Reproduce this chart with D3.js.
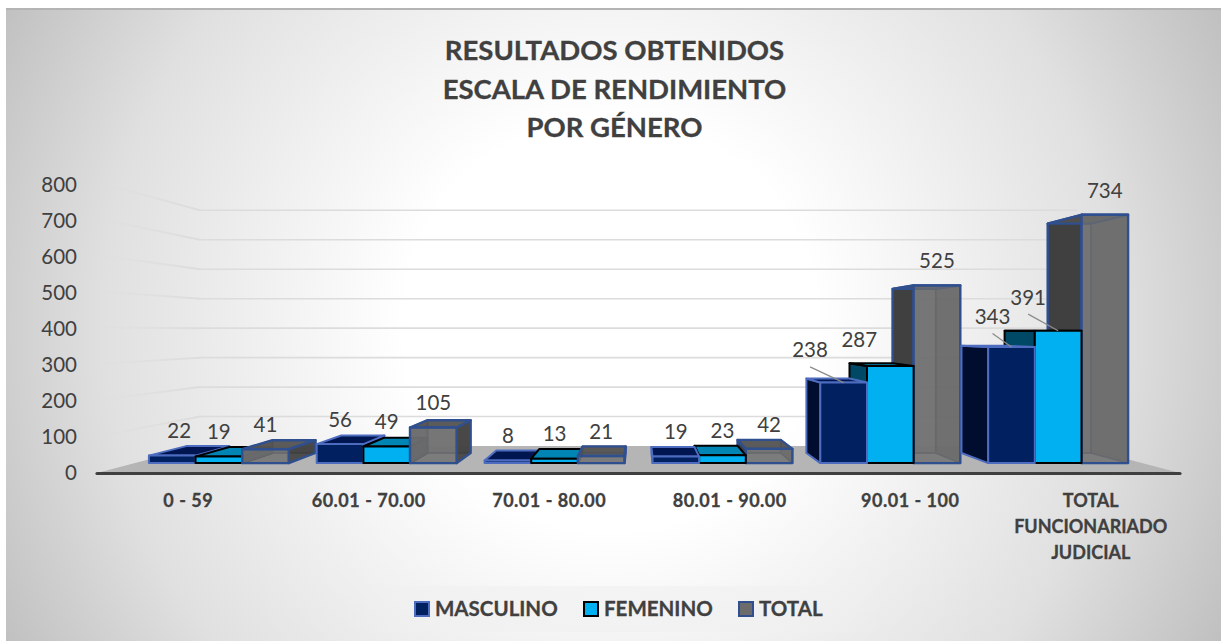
<!DOCTYPE html>
<html><head><meta charset="utf-8">
<script src="https://cdn.jsdelivr.net/npm/d3@7"></script>
<style>html,body{margin:0;padding:0;background:#fff}svg{display:block}text{font-family:Lato,"Open Sans",sans-serif;fill:#404040}.b{stroke:#404040;stroke-width:0.3px}</style>
</head><body><div id="c"></div>
<script>
const categories=["0 - 59","60.01 - 70.00","70.01 - 80.00","80.01 - 90.00","90.01 - 100","TOTAL FUNCIONARIADO JUDICIAL"];
const categoryLines=[["0 - 59"],["60.01 - 70.00"],["70.01 - 80.00"],["80.01 - 90.00"],["90.01 - 100"],["TOTAL","FUNCIONARIADO","JUDICIAL"]];
const seriesNames=["MASCULINO","FEMENINO","TOTAL"];
const masculino=[22,56,8,19,238,343];
const femenino=[19,49,13,23,287,391];
const total=[41,105,21,42,525,734];
const titleLines=["RESULTADOS OBTENIDOS","ESCALA DE RENDIMIENTO","POR GÉNERO"];
const valueTicks=[0,100,200,300,400,500,600,700,800];
// label nudges [series, category, dx, dy, leader]
const labelNudges=[[0,0,7,0,false],[0,4,-33.6,-8,true],[1,4,-31,-2,false],[0,5,-19,-6,true],[1,5,-30,-9,true]];

const W=1221,H=641;
const svg=d3.select("#c").append("svg").attr("width",W).attr("height",H);
const defs=svg.append("defs");
const bg=defs.append("radialGradient").attr("id","bg").attr("gradientUnits","userSpaceOnUse").attr("cx",610).attr("cy",325).attr("r",686);
[[0.3,"#ffffff"],[0.74,"#e0e0e0"],[1,"#c0c0c0"]].forEach(s=>bg.append("stop").attr("offset",s[0]).attr("stop-color",s[1]));
const wall=defs.append("linearGradient").attr("id","wall").attr("gradientUnits","userSpaceOnUse").attr("x1",97).attr("x2",200).attr("y1",0).attr("y2",0);
wall.append("stop").attr("offset",0).attr("stop-color","#dcdcdc").attr("stop-opacity",0.1);
wall.append("stop").attr("offset",1).attr("stop-color","#dcdcdc").attr("stop-opacity",1);
const lg=defs.append("linearGradient").attr("id","lgbox");
[[0,0],[0.2,0.6],[0.8,0.6],[1,0]].forEach(s=>lg.append("stop").attr("offset",s[0]).attr("stop-color","#f0f0f0").attr("stop-opacity",s[1]));

svg.append("rect").attr("x",6).attr("y",8).attr("width",W-6).attr("height",H-8).attr("fill","url(#bg)");
svg.append("line").attr("x1",6).attr("x2",W).attr("y1",9).attr("y2",9).attr("stroke","#b4b4b4").attr("stroke-width",2);
svg.append("rect").attr("x",340).attr("y",586).attr("width",540).attr("height",46).attr("fill","url(#lgbox)");

// front-plane scales + one-point perspective
const band=d3.scaleBand().domain(categories).range([97,1180]).paddingInner(0).paddingOuter(0);
const series=[masculino,femenino,total];
const xInner=d3.scaleBand().domain([0,1,2]).range([15,band.bandwidth()-15]);
const y=d3.scaleLinear().domain([0,800]).range([473,182]);
const yLabel=d3.scaleLinear().domain([0,800]).range([473,185]);
const VX=638.5,VY=331;
const S_FRONT=0.93,S_BACK=0.859,S_WALL=0.81;
const P=(x,yy,s)=>[VX+(x-VX)*s,VY+(yy-VY)*s];
const poly=pts=>pts.map(p=>p.map(v=>v.toFixed(1)).join(",")).join(" ");

// floor
const x0=band.range()[0],x1=band.range()[1];
svg.append("polygon").attr("points",poly([P(x0,y(0),1),P(x0,y(0),S_WALL),P(x1,y(0),S_WALL),P(x1,y(0),1)])).attr("fill","#b5b5b5");

// gridlines
const grid=svg.append("g");
valueTicks.forEach(t=>{
  const a=P(x0,y(t),1),b=P(x0,y(t),S_WALL),c=P(x1,y(t),S_WALL);
  if(t>0){
    grid.append("line").attr("x1",a[0]).attr("y1",a[1]).attr("x2",b[0]+0.01).attr("y2",b[1]).attr("stroke","url(#wall)").attr("stroke-width",2);
    grid.append("line").attr("x1",b[0]).attr("y1",b[1]).attr("x2",c[0]).attr("y2",c[1]).attr("stroke","#dcdcdc").attr("stroke-width",1.6);
  }
});
svg.append("line").attr("x1",x0).attr("x2",x1).attr("y1",y(0)+0.5).attr("y2",y(0)+0.5).attr("stroke","#3f3f3f").attr("stroke-width",3.2).attr("stroke-linecap","round");

// value axis labels
svg.append("g").selectAll("text").data(valueTicks).join("text")
  .attr("x",77).attr("y",d=>yLabel(d)).attr("dy","0.36em").attr("text-anchor","end").attr("font-size",20.5).text(d=>d);

// bars
const styles=[
 {front:"#002060",left:"#000d2e",right:"#000d2e",top:"#001650",stroke:"#4d6cc0",sw:2,op:1},
 {front:"#00b0f0",left:"#004966",right:"#004966",top:"#0085b5",stroke:"#000000",sw:2,op:1},
 {front:"#6c6c6c",left:"#303030",right:"#3a3a3a",top:"#505050",back:"#8a8a8a",stroke:"#2f4f8f",sw:2.4,op:0.78}
];
const barsG=svg.append("g");
function drawBar(si,ci){
  const st=styles[si],v=series[si][ci],c=categories[ci];
  const xa=band(c)+xInner(si),xb=xa+xInner.bandwidth();
  const yb=y(0),yt=y(v);
  const f=(x,yy)=>P(x,yy,S_FRONT),k=(x,yy)=>P(x,yy,S_BACK);
  const face=(pts,fill,op,sw,col)=>barsG.append("polygon").attr("points",poly(pts)).attr("fill",fill).attr("fill-opacity",op)
     .attr("stroke",col||st.stroke).attr("stroke-width",sw||st.sw).attr("stroke-linejoin","round");
  const leftF=[k(xa,yt),f(xa,yt),f(xa,yb),k(xa,yb)], rightF=[f(xb,yt),k(xb,yt),k(xb,yb),f(xb,yb)];
  const topF=[k(xa,yt),k(xb,yt),f(xb,yt),f(xa,yt)], frontF=[f(xa,yt),f(xb,yt),f(xb,yb),f(xa,yb)];
  if(si===2){
    face([k(xa,yt),k(xb,yt),k(xb,yb),k(xa,yb)],st.back,0.85,1.5,"#505a72");
    if(xa>VX) face(rightF,"#6a6a6a",0.85,1.5,"#505a72"); else if(xb<VX) face(leftF,"#6a6a6a",0.85,1.5,"#505a72");
  }
  if(xa>VX) face(leftF,st.left,si===2?0.85:1);
  if(xb<VX) face(rightF,st.right,si===2?0.85:1);
  face(topF,st.top,si===2?0.85:1);
  face(frontF,st.front,st.op);
}
categories.forEach((c,ci)=>{
  const right=band(c)+band.bandwidth()/2>VX;
  (right?[2,1,0]:[0,1,2]).forEach(si=>drawBar(si,ci));
});

// data labels
const labelG=svg.append("g");
series.forEach((arr,si)=>arr.forEach((v,ci)=>{
  const c=band(categories[ci])+xInner(si)+xInner.bandwidth()/2;
  const a=P(c,y(v),S_FRONT);
  const n=labelNudges.find(m=>m[0]===si&&m[1]===ci)||[si,ci,0,0,false];
  const lx=a[0]+n[2],ly=a[1]-24.6+n[3];
  if(n[4]) labelG.append("line").attr("x1",lx).attr("y1",ly+17).attr("x2",a[0]).attr("y2",a[1]).attr("stroke","#8c8c8c").attr("stroke-width",1.3);
  labelG.append("text").attr("x",lx).attr("y",ly).attr("dy","0.36em").attr("text-anchor","middle").attr("font-size",20.5).text(v);
}));

// category labels
categories.forEach((c,i)=>{
  const g=svg.append("text").attr("class","b").attr("text-anchor","middle").attr("font-size",18).attr("font-weight",700)
    .attr("letter-spacing",i<5?0.5:0);
  categoryLines[i].forEach((l,j)=>g.append("tspan").attr("x",band(c)+band.bandwidth()/2+1).attr("y",507+j*26).text(l));
});

// title
titleLines.forEach((t,i)=>svg.append("text").attr("class","b").attr("x",614.5).attr("y",60+i*38.5).attr("text-anchor","middle").attr("font-size",27.5).attr("font-weight",700).text(t));

// legend
const legendX=[415,584,739];
const legend=svg.append("g").selectAll("g").data(seriesNames).join("g").attr("transform",(d,i)=>`translate(${legendX[i]},602)`);
legend.append("rect").attr("width",14).attr("height",14).attr("fill",(d,i)=>styles[i].front).attr("stroke",(d,i)=>styles[i].stroke).attr("stroke-width",2);
legend.append("text").attr("class","b").attr("x",20).attr("y",7).attr("dy","0.36em").attr("font-size",20.5).attr("font-weight",700).text(d=>d);
</script></body></html>
